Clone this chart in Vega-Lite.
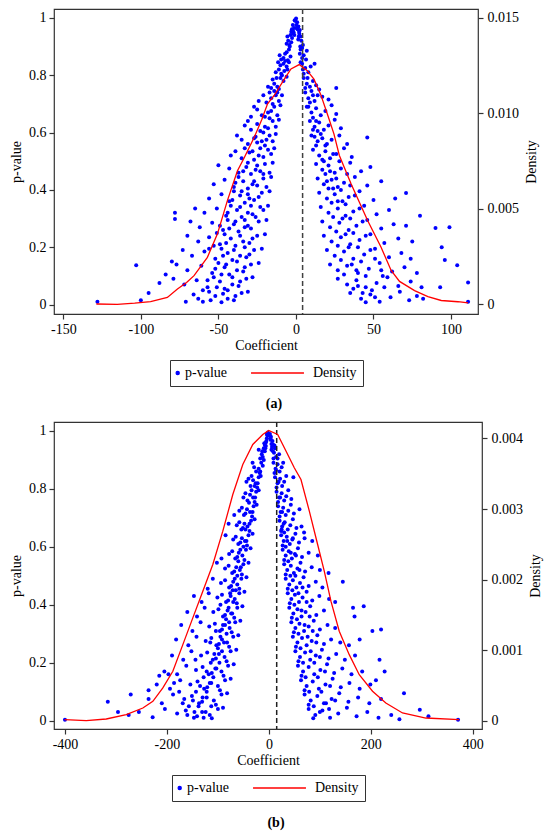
{
  "$schema": "https://vega.github.io/schema/vega-lite/v6.json",
  "padding": {"left": 8, "top": 7, "right": 0, "bottom": 0},
  "datasets": {
    "pa": [
      {"c":-0.5,"p":0.99},{"c":0.3,"p":0.975},{"c":-1.2,"p":0.965},{"c":1.0,"p":0.96},{"c":-2.0,"p":0.955},{"c":0.8,"p":0.985},{"c":-1.5,"p":0.95},{"c":2.0,"p":0.952},{"c":-2.6,"p":0.96},{"c":1.6,"p":0.97},{"c":-0.8,"p":0.992},{"c":0.1,"p":0.998},{"c":-3,"p":0.952},{"c":2.5,"p":0.958},
      {"c":-3.5,"p":0.94},{"c":-5,"p":0.92},{"c":-2.5,"p":0.93},{"c":-4.2,"p":0.905},{"c":-6,"p":0.91},{"c":2.2,"p":0.945},{"c":3.5,"p":0.92},{"c":4.5,"p":0.905},{"c":1.8,"p":0.935},{"c":-3,"p":0.915},{"c":3,"p":0.935},{"c":-5.5,"p":0.935},{"c":2.8,"p":0.9},{"c":-1.8,"p":0.945},
      {"c":-6,"p":0.88},{"c":-8,"p":0.86},{"c":-4.5,"p":0.89},{"c":-7,"p":0.875},{"c":-3.5,"p":0.865},{"c":-9.5,"p":0.855},{"c":-5.2,"p":0.852},{"c":3,"p":0.89},{"c":5,"p":0.87},{"c":4,"p":0.86},{"c":6.5,"p":0.855},{"c":7,"p":0.885},{"c":2.5,"p":0.875},{"c":-10.5,"p":0.87},
      {"c":-8,"p":0.84},{"c":-11,"p":0.82},{"c":-6,"p":0.83},{"c":-13,"p":0.81},{"c":-9.5,"p":0.805},{"c":-4.5,"p":0.845},{"c":-10,"p":0.835},{"c":-7.5,"p":0.815},{"c":4,"p":0.84},{"c":6,"p":0.825},{"c":8,"p":0.81},{"c":5,"p":0.805},{"c":9.5,"p":0.83},{"c":12,"p":0.84},{"c":-11.5,"p":0.845},{"c":-12.5,"p":0.79},
      {"c":-10,"p":0.79},{"c":-14,"p":0.77},{"c":-12,"p":0.76},{"c":-8,"p":0.78},{"c":-16,"p":0.755},{"c":-6,"p":0.795},{"c":-11,"p":0.752},{"c":-15,"p":0.785},{"c":5,"p":0.79},{"c":7,"p":0.77},{"c":9,"p":0.76},{"c":11,"p":0.78},{"c":6,"p":0.755},{"c":13,"p":0.765},{"c":15,"p":0.75},{"c":-18,"p":0.76},
      {"c":-12,"p":0.74},{"c":-16,"p":0.72},{"c":-19,"p":0.705},{"c":-14,"p":0.745},{"c":-9,"p":0.73},{"c":-21,"p":0.73},{"c":-17,"p":0.74},{"c":-11,"p":0.71},{"c":-24,"p":0.71},{"c":6,"p":0.74},{"c":8,"p":0.72},{"c":10,"p":0.745},{"c":12,"p":0.71},{"c":14,"p":0.73},{"c":9,"p":0.705},{"c":17,"p":0.725},{"c":21,"p":0.715},{"c":26,"p":0.755},
      {"c":-14,"p":0.69},{"c":-18,"p":0.67},{"c":-22,"p":0.66},{"c":-25,"p":0.68},{"c":-10,"p":0.695},{"c":-20,"p":0.655},{"c":-16,"p":0.675},{"c":-27,"p":0.69},{"c":-12,"p":0.66},{"c":7,"p":0.69},{"c":10,"p":0.67},{"c":13,"p":0.685},{"c":16,"p":0.66},{"c":19,"p":0.675},{"c":11,"p":0.652},{"c":23,"p":0.695},{"c":26,"p":0.665},{"c":-29,"p":0.655},
      {"c":-15,"p":0.64},{"c":-20,"p":0.62},{"c":-25,"p":0.63},{"c":-29,"p":0.61},{"c":-11,"p":0.645},{"c":-23,"p":0.605},{"c":-18,"p":0.615},{"c":-31,"p":0.64},{"c":-13,"p":0.62},{"c":9,"p":0.64},{"c":12,"p":0.62},{"c":15,"p":0.635},{"c":18,"p":0.61},{"c":21,"p":0.625},{"c":14,"p":0.605},{"c":25,"p":0.645},{"c":29,"p":0.615},{"c":-33,"p":0.625},
      {"c":-17,"p":0.59},{"c":-22,"p":0.57},{"c":-27,"p":0.58},{"c":-31,"p":0.56},{"c":-13,"p":0.595},{"c":-35,"p":0.575},{"c":-20,"p":0.555},{"c":-25,"p":0.565},{"c":-38,"p":0.59},{"c":10,"p":0.59},{"c":14,"p":0.57},{"c":17,"p":0.58},{"c":20,"p":0.56},{"c":23,"p":0.575},{"c":13,"p":0.555},{"c":28,"p":0.59},{"c":33,"p":0.56},{"c":46,"p":0.583},{"c":-15,"p":0.57},
      {"c":-18,"p":0.54},{"c":-24,"p":0.52},{"c":-30,"p":0.53},{"c":-35,"p":0.51},{"c":-14,"p":0.545},{"c":-27,"p":0.505},{"c":-21,"p":0.515},{"c":-39,"p":0.535},{"c":-42,"p":0.52},{"c":11,"p":0.54},{"c":15,"p":0.52},{"c":19,"p":0.535},{"c":22,"p":0.51},{"c":26,"p":0.525},{"c":17,"p":0.505},{"c":31,"p":0.545},{"c":36,"p":0.515},{"c":-33,"p":0.545},
      {"c":-20,"p":0.49},{"c":-26,"p":0.47},{"c":-32,"p":0.48},{"c":-37,"p":0.46},{"c":-15,"p":0.495},{"c":-29,"p":0.455},{"c":-23,"p":0.465},{"c":-43,"p":0.475},{"c":-50,"p":0.486},{"c":-17,"p":0.46},{"c":13,"p":0.49},{"c":17,"p":0.47},{"c":21,"p":0.485},{"c":25,"p":0.46},{"c":29,"p":0.475},{"c":19,"p":0.455},{"c":35,"p":0.495},{"c":42,"p":0.465},{"c":48,"p":0.48},
      {"c":-21,"p":0.44},{"c":-28,"p":0.42},{"c":-34,"p":0.43},{"c":-40,"p":0.41},{"c":-16,"p":0.445},{"c":-31,"p":0.405},{"c":-25,"p":0.415},{"c":-46,"p":0.435},{"c":-53,"p":0.42},{"c":-37,"p":0.445},{"c":14,"p":0.44},{"c":18,"p":0.42},{"c":23,"p":0.435},{"c":27,"p":0.41},{"c":31,"p":0.425},{"c":21,"p":0.405},{"c":38,"p":0.445},{"c":46,"p":0.415},{"c":55,"p":0.43},
      {"c":-22,"p":0.39},{"c":-30,"p":0.37},{"c":-36,"p":0.38},{"c":-43,"p":0.36},{"c":-17,"p":0.395},{"c":-33,"p":0.355},{"c":-27,"p":0.365},{"c":-48,"p":0.385},{"c":-56,"p":0.37},{"c":-40,"p":0.395},{"c":15,"p":0.39},{"c":20,"p":0.37},{"c":25,"p":0.385},{"c":30,"p":0.36},{"c":34,"p":0.375},{"c":23,"p":0.355},{"c":41,"p":0.395},{"c":50,"p":0.365},{"c":64,"p":0.37},{"c":71,"p":0.389},
      {"c":-23,"p":0.34},{"c":-31,"p":0.32},{"c":-38,"p":0.33},{"c":-45,"p":0.31},{"c":-18,"p":0.345},{"c":-35,"p":0.305},{"c":-28,"p":0.315},{"c":-51,"p":0.335},{"c":-59,"p":0.32},{"c":-65,"p":0.335},{"c":-42,"p":0.345},{"c":16,"p":0.34},{"c":21,"p":0.32},{"c":27,"p":0.335},{"c":32,"p":0.31},{"c":37,"p":0.325},{"c":24,"p":0.305},{"c":44,"p":0.345},{"c":52,"p":0.315},{"c":60,"p":0.33},
      {"c":-24,"p":0.29},{"c":-33,"p":0.27},{"c":-40,"p":0.28},{"c":-47,"p":0.26},{"c":-19,"p":0.295},{"c":-37,"p":0.255},{"c":-29,"p":0.265},{"c":-54,"p":0.285},{"c":-62,"p":0.27},{"c":-68,"p":0.29},{"c":-78,"p":0.298},{"c":-78,"p":0.32},{"c":-44,"p":0.295},{"c":17,"p":0.29},{"c":22,"p":0.27},{"c":28,"p":0.285},{"c":34,"p":0.26},{"c":39,"p":0.275},{"c":26,"p":0.255},{"c":46,"p":0.295},{"c":55,"p":0.265},{"c":63,"p":0.28},{"c":80,"p":0.31},{"c":90,"p":0.267},{"c":99,"p":0.27},{"c":71,"p":0.275},
      {"c":-25,"p":0.24},{"c":-34,"p":0.22},{"c":-42,"p":0.23},{"c":-49,"p":0.21},{"c":-20,"p":0.245},{"c":-39,"p":0.205},{"c":-30,"p":0.215},{"c":-56,"p":0.235},{"c":-63,"p":0.22},{"c":-70,"p":0.24},{"c":-46,"p":0.245},{"c":-53,"p":0.205},{"c":18,"p":0.24},{"c":23,"p":0.22},{"c":29,"p":0.235},{"c":35,"p":0.21},{"c":41,"p":0.225},{"c":27,"p":0.205},{"c":48,"p":0.245},{"c":57,"p":0.215},{"c":66,"p":0.23},{"c":75,"p":0.22},{"c":94,"p":0.2},
      {"c":-27,"p":0.19},{"c":-36,"p":0.17},{"c":-44,"p":0.18},{"c":-52,"p":0.16},{"c":-22,"p":0.195},{"c":-41,"p":0.155},{"c":-32,"p":0.165},{"c":-59,"p":0.185},{"c":-67,"p":0.17},{"c":-73,"p":0.19},{"c":-80,"p":0.15},{"c":-48,"p":0.195},{"c":20,"p":0.19},{"c":25,"p":0.17},{"c":31,"p":0.185},{"c":37,"p":0.16},{"c":44,"p":0.175},{"c":29,"p":0.155},{"c":51,"p":0.195},{"c":60,"p":0.165},{"c":68,"p":0.18},{"c":96,"p":0.155},{"c":74,"p":0.16},
      {"c":-29,"p":0.14},{"c":-38,"p":0.12},{"c":-46,"p":0.13},{"c":-54,"p":0.11},{"c":-24,"p":0.145},{"c":-43,"p":0.105},{"c":-34,"p":0.115},{"c":-61,"p":0.135},{"c":-70,"p":0.12},{"c":-77,"p":0.14},{"c":-84,"p":0.105},{"c":-103,"p":0.137},{"c":-50,"p":0.145},{"c":22,"p":0.14},{"c":27,"p":0.12},{"c":33,"p":0.135},{"c":40,"p":0.11},{"c":47,"p":0.125},{"c":31,"p":0.105},{"c":54,"p":0.145},{"c":62,"p":0.115},{"c":70,"p":0.13},{"c":78,"p":0.11},{"c":104,"p":0.137},
      {"c":-32,"p":0.09},{"c":-41,"p":0.07},{"c":-49,"p":0.08},{"c":-57,"p":0.06},{"c":-28,"p":0.095},{"c":-46,"p":0.055},{"c":-37,"p":0.065},{"c":-64,"p":0.085},{"c":-72,"p":0.07},{"c":-79,"p":0.09},{"c":-88,"p":0.075},{"c":-53,"p":0.095},{"c":27,"p":0.09},{"c":33,"p":0.07},{"c":39,"p":0.085},{"c":45,"p":0.06},{"c":52,"p":0.075},{"c":37,"p":0.055},{"c":59,"p":0.095},{"c":66,"p":0.065},{"c":74,"p":0.08},{"c":81,"p":0.06},{"c":93,"p":0.06},{"c":111,"p":0.077},
      {"c":-35,"p":0.04},{"c":-44,"p":0.02},{"c":-52,"p":0.03},{"c":-60,"p":0.01},{"c":-31,"p":0.045},{"c":-48,"p":0.008},{"c":-40,"p":0.015},{"c":-66,"p":0.035},{"c":-71,"p":0.01},{"c":-95,"p":0.04},{"c":-100,"p":0.015},{"c":-128,"p":0.01},{"c":-56,"p":0.045},{"c":35,"p":0.04},{"c":42,"p":0.02},{"c":48,"p":0.035},{"c":54,"p":0.01},{"c":61,"p":0.025},{"c":45,"p":0.008},{"c":67,"p":0.045},{"c":73,"p":0.015},{"c":78,"p":0.03},{"c":82,"p":0.02},{"c":111,"p":0.01},
      {"c":-26,"p":0.585},{"c":-19,"p":0.575},{"c":-23,"p":0.545},{"c":-28,"p":0.535},{"c":-16,"p":0.525},{"c":-31,"p":0.495},{"c":-25,"p":0.485},{"c":-34,"p":0.465},{"c":-21,"p":0.455},{"c":-39,"p":0.425},{"c":-27,"p":0.43},{"c":-19,"p":0.41},{"c":-35,"p":0.395},{"c":-24,"p":0.375},{"c":-31,"p":0.385},{"c":-41,"p":0.365},{"c":-29,"p":0.345},{"c":-36,"p":0.34},{"c":-21,"p":0.33},{"c":-44,"p":0.32},{"c":-33,"p":0.295},{"c":-26,"p":0.305},{"c":-39,"p":0.29},{"c":-49,"p":0.275},{"c":-31,"p":0.275},{"c":-43,"p":0.265},{"c":-36,"p":0.24},{"c":-28,"p":0.23},{"c":-45,"p":0.215},{"c":-51,"p":0.25},{"c":-33,"p":0.2},{"c":-40,"p":0.19},{"c":-47,"p":0.17},{"c":-30,"p":0.175},{"c":-56,"p":0.195},{"c":-38,"p":0.15},{"c":-45,"p":0.14},{"c":-52,"p":0.125},{"c":-33,"p":0.13},{"c":-41,"p":0.095},{"c":-48,"p":0.105},{"c":-57,"p":0.085},{"c":-36,"p":0.08},{"c":-44,"p":0.05},{"c":-51,"p":0.06},{"c":-60,"p":0.05},{"c":-39,"p":0.03},{"c":-47,"p":0.038},{"c":-63,"p":0.02},{"c":-55,"p":0.015},
      {"c":16,"p":0.595},{"c":19,"p":0.555},{"c":12,"p":0.585},{"c":24,"p":0.525},{"c":18,"p":0.5},{"c":28,"p":0.5},{"c":22,"p":0.465},{"c":33,"p":0.455},{"c":26,"p":0.44},{"c":20,"p":0.43},{"c":35,"p":0.415},{"c":29,"p":0.4},{"c":24,"p":0.405},{"c":38,"p":0.38},{"c":32,"p":0.35},{"c":27,"p":0.36},{"c":41,"p":0.335},{"c":35,"p":0.3},{"c":30,"p":0.3},{"c":43,"p":0.29},{"c":37,"p":0.25},{"c":32,"p":0.245},{"c":45,"p":0.24},{"c":40,"p":0.2},{"c":34,"p":0.2},{"c":48,"p":0.19},{"c":42,"p":0.15},{"c":36,"p":0.14},{"c":51,"p":0.16},{"c":45,"p":0.1},{"c":39,"p":0.12},{"c":55,"p":0.12},{"c":49,"p":0.05},{"c":43,"p":0.04},{"c":57,"p":0.06},{"c":51,"p":0.025},{"c":40,"p":0.065},{"c":56,"p":0.1},
      {"c":-2,"p":0.975},{"c":0.5,"p":0.965},{"c":-1,"p":0.94},{"c":1.5,"p":0.925},{"c":-4,"p":0.9},{"c":4,"p":0.895},{"c":-7,"p":0.85},{"c":-5.5,"p":0.82},{"c":3,"p":0.845},{"c":4.5,"p":0.82},{"c":-9,"p":0.8},{"c":7.5,"p":0.79},{"c":-13,"p":0.73},{"c":11,"p":0.73},{"c":-15,"p":0.7},{"c":8,"p":0.69},{"c":-17,"p":0.65},{"c":13,"p":0.64},{"c":-21,"p":0.6},{"c":11,"p":0.61}
    ],
    "da": [
      {"c":-128.7,"d":0.000015},{"c":-115.2,"d":0},{"c":-104,"d":0.00006},{"c":-93.7,"d":0.000135},{"c":-82.9,"d":0.00036},{"c":-76.4,"d":0.0008},{"c":-70.5,"d":0.00114},{"c":-65.7,"d":0.0015},{"c":-57.1,"d":0.00246},{"c":-50.6,"d":0.00369},{"c":-44.2,"d":0.00543},{"c":-37.7,"d":0.007},{"c":-33.5,"d":0.00765},{"c":-26.9,"d":0.00875},{"c":-22,"d":0.00968},{"c":-18.3,"d":0.0105},{"c":-14,"d":0.01094},{"c":-7.5,"d":0.0118},{"c":-3.2,"d":0.01233},{"c":2.1,"d":0.01256},{"c":7.3,"d":0.01224},{"c":11.6,"d":0.0118},{"c":15.9,"d":0.01101},{"c":20.2,"d":0.00998},{"c":24.5,"d":0.00893},{"c":28,"d":0.0078},{"c":35.6,"d":0.0063},{"c":46.3,"d":0.00438},{"c":54.9,"d":0.00299},{"c":61.4,"d":0.00177},{"c":66.8,"d":0.0012},{"c":76.5,"d":0.00072},{"c":85.1,"d":0.0004},{"c":93.7,"d":0.0002},{"c":104.5,"d":0.000135},{"c":111,"d":0.000075}
    ],
    "pb": [
      {"c":-2,"p":0.995},{"c":1,"p":0.985},{"c":-4,"p":0.975},{"c":3,"p":0.97},{"c":-6,"p":0.96},{"c":5,"p":0.955},{"c":-8,"p":0.952},{"c":7,"p":0.965},{"c":-3,"p":0.985},{"c":2,"p":0.99},{"c":-5,"p":0.965},{"c":4,"p":0.98},{"c":-9,"p":0.958},{"c":8,"p":0.953},
      {"c":-10,"p":0.94},{"c":-14,"p":0.92},{"c":-8,"p":0.93},{"c":-17,"p":0.905},{"c":-12,"p":0.91},{"c":-20,"p":0.935},{"c":6,"p":0.945},{"c":10,"p":0.925},{"c":14,"p":0.91},{"c":8,"p":0.93},{"c":17,"p":0.905},{"c":12,"p":0.94},{"c":-6,"p":0.948},{"c":20,"p":0.92},
      {"c":-15,"p":0.89},{"c":-20,"p":0.87},{"c":-25,"p":0.86},{"c":-12,"p":0.88},{"c":-29,"p":0.875},{"c":-18,"p":0.855},{"c":-32,"p":0.89},{"c":9,"p":0.89},{"c":13,"p":0.87},{"c":17,"p":0.885},{"c":21,"p":0.86},{"c":25,"p":0.875},{"c":11,"p":0.855},{"c":28,"p":0.89},
      {"c":-20,"p":0.84},{"c":-26,"p":0.82},{"c":-31,"p":0.83},{"c":-36,"p":0.81},{"c":-16,"p":0.845},{"c":-40,"p":0.835},{"c":-23,"p":0.805},{"c":-34,"p":0.845},{"c":-44,"p":0.825},{"c":12,"p":0.84},{"c":17,"p":0.82},{"c":22,"p":0.835},{"c":26,"p":0.81},{"c":30,"p":0.825},{"c":15,"p":0.805},{"c":34,"p":0.845},{"c":48,"p":0.84},{"c":-28,"p":0.81},
      {"c":-25,"p":0.79},{"c":-31,"p":0.77},{"c":-37,"p":0.78},{"c":-42,"p":0.76},{"c":-20,"p":0.795},{"c":-46,"p":0.785},{"c":-28,"p":0.755},{"c":-39,"p":0.752},{"c":-50,"p":0.77},{"c":15,"p":0.79},{"c":20,"p":0.77},{"c":25,"p":0.785},{"c":30,"p":0.76},{"c":34,"p":0.775},{"c":18,"p":0.755},{"c":38,"p":0.795},{"c":44,"p":0.765},{"c":-34,"p":0.795},
      {"c":-30,"p":0.74},{"c":-37,"p":0.72},{"c":-43,"p":0.73},{"c":-49,"p":0.71},{"c":-24,"p":0.745},{"c":-53,"p":0.735},{"c":-33,"p":0.705},{"c":-46,"p":0.715},{"c":-58,"p":0.725},{"c":-68,"p":0.71},{"c":18,"p":0.74},{"c":23,"p":0.72},{"c":28,"p":0.735},{"c":33,"p":0.71},{"c":38,"p":0.725},{"c":21,"p":0.705},{"c":43,"p":0.745},{"c":49,"p":0.715},{"c":60,"p":0.73},
      {"c":-35,"p":0.69},{"c":-42,"p":0.67},{"c":-48,"p":0.68},{"c":-54,"p":0.66},{"c":-28,"p":0.695},{"c":-58,"p":0.685},{"c":-38,"p":0.655},{"c":-51,"p":0.665},{"c":-63,"p":0.675},{"c":-79,"p":0.68},{"c":21,"p":0.69},{"c":26,"p":0.67},{"c":31,"p":0.685},{"c":37,"p":0.66},{"c":42,"p":0.675},{"c":24,"p":0.655},{"c":47,"p":0.695},{"c":54,"p":0.665},{"c":64,"p":0.67},{"c":69,"p":0.65},
      {"c":-40,"p":0.64},{"c":-47,"p":0.62},{"c":-53,"p":0.63},{"c":-60,"p":0.61},{"c":-32,"p":0.645},{"c":-65,"p":0.635},{"c":-43,"p":0.605},{"c":-56,"p":0.615},{"c":-70,"p":0.625},{"c":-85,"p":0.64},{"c":24,"p":0.64},{"c":29,"p":0.62},{"c":35,"p":0.635},{"c":41,"p":0.61},{"c":46,"p":0.625},{"c":27,"p":0.605},{"c":52,"p":0.645},{"c":59,"p":0.615},{"c":70,"p":0.63},{"c":85,"p":0.62},
      {"c":-45,"p":0.59},{"c":-52,"p":0.57},{"c":-59,"p":0.58},{"c":-66,"p":0.56},{"c":-36,"p":0.595},{"c":-72,"p":0.585},{"c":-48,"p":0.555},{"c":-62,"p":0.565},{"c":-78,"p":0.575},{"c":-93,"p":0.56},{"c":27,"p":0.59},{"c":33,"p":0.57},{"c":39,"p":0.585},{"c":45,"p":0.56},{"c":51,"p":0.575},{"c":30,"p":0.555},{"c":57,"p":0.595},{"c":65,"p":0.565},{"c":78,"p":0.58},{"c":96,"p":0.57},
      {"c":-50,"p":0.54},{"c":-57,"p":0.52},{"c":-64,"p":0.53},{"c":-72,"p":0.51},{"c":-40,"p":0.545},{"c":-79,"p":0.535},{"c":-53,"p":0.505},{"c":-68,"p":0.515},{"c":-86,"p":0.525},{"c":-102,"p":0.545},{"c":30,"p":0.54},{"c":36,"p":0.52},{"c":43,"p":0.535},{"c":49,"p":0.51},{"c":56,"p":0.525},{"c":33,"p":0.505},{"c":62,"p":0.545},{"c":71,"p":0.515},{"c":84,"p":0.53},{"c":100,"p":0.52},{"c":117,"p":0.51},
      {"c":-54,"p":0.49},{"c":-62,"p":0.47},{"c":-70,"p":0.48},{"c":-78,"p":0.46},{"c":-44,"p":0.495},{"c":-86,"p":0.485},{"c":-58,"p":0.455},{"c":-74,"p":0.465},{"c":-94,"p":0.475},{"c":-110,"p":0.49},{"c":-120,"p":0.455},{"c":33,"p":0.49},{"c":40,"p":0.47},{"c":47,"p":0.485},{"c":54,"p":0.46},{"c":61,"p":0.475},{"c":37,"p":0.455},{"c":68,"p":0.495},{"c":78,"p":0.465},{"c":92,"p":0.48},{"c":145,"p":0.48},{"c":105,"p":0.46},
      {"c":-58,"p":0.44},{"c":-67,"p":0.42},{"c":-75,"p":0.43},{"c":-84,"p":0.41},{"c":-48,"p":0.445},{"c":-92,"p":0.435},{"c":-63,"p":0.405},{"c":-80,"p":0.415},{"c":-101,"p":0.425},{"c":-118,"p":0.44},{"c":-132,"p":0.41},{"c":-147,"p":0.43},{"c":37,"p":0.44},{"c":44,"p":0.42},{"c":51,"p":0.435},{"c":59,"p":0.41},{"c":66,"p":0.425},{"c":41,"p":0.405},{"c":74,"p":0.445},{"c":85,"p":0.415},{"c":99,"p":0.43},{"c":118,"p":0.42},{"c":130,"p":0.41},
      {"c":-62,"p":0.39},{"c":-72,"p":0.37},{"c":-81,"p":0.38},{"c":-90,"p":0.36},{"c":-52,"p":0.395},{"c":-99,"p":0.385},{"c":-68,"p":0.355},{"c":-86,"p":0.365},{"c":-109,"p":0.375},{"c":-126,"p":0.39},{"c":-141,"p":0.36},{"c":-160,"p":0.375},{"c":40,"p":0.39},{"c":48,"p":0.37},{"c":56,"p":0.385},{"c":64,"p":0.36},{"c":72,"p":0.375},{"c":45,"p":0.355},{"c":81,"p":0.395},{"c":93,"p":0.365},{"c":108,"p":0.38},{"c":165,"p":0.39},{"c":186,"p":0.395},{"c":168,"p":0.36},
      {"c":-66,"p":0.34},{"c":-77,"p":0.32},{"c":-86,"p":0.33},{"c":-96,"p":0.31},{"c":-56,"p":0.345},{"c":-106,"p":0.335},{"c":-73,"p":0.305},{"c":-92,"p":0.315},{"c":-117,"p":0.325},{"c":-134,"p":0.34},{"c":-150,"p":0.31},{"c":-172,"p":0.33},{"c":44,"p":0.34},{"c":52,"p":0.32},{"c":60,"p":0.335},{"c":69,"p":0.31},{"c":78,"p":0.325},{"c":49,"p":0.305},{"c":88,"p":0.345},{"c":100,"p":0.315},{"c":115,"p":0.33},{"c":130,"p":0.32},{"c":203,"p":0.31},{"c":220,"p":0.315},
      {"c":-70,"p":0.29},{"c":-82,"p":0.27},{"c":-92,"p":0.28},{"c":-103,"p":0.26},{"c":-60,"p":0.295},{"c":-113,"p":0.285},{"c":-78,"p":0.255},{"c":-98,"p":0.265},{"c":-124,"p":0.275},{"c":-142,"p":0.29},{"c":-158,"p":0.26},{"c":-182,"p":0.28},{"c":47,"p":0.29},{"c":56,"p":0.27},{"c":65,"p":0.285},{"c":74,"p":0.26},{"c":84,"p":0.275},{"c":53,"p":0.255},{"c":95,"p":0.295},{"c":108,"p":0.265},{"c":122,"p":0.28},{"c":140,"p":0.27},{"c":157,"p":0.26},{"c":178,"p":0.28},
      {"c":-75,"p":0.24},{"c":-87,"p":0.22},{"c":-98,"p":0.23},{"c":-110,"p":0.21},{"c":-64,"p":0.245},{"c":-121,"p":0.235},{"c":-83,"p":0.205},{"c":-104,"p":0.215},{"c":-133,"p":0.225},{"c":-152,"p":0.24},{"c":-168,"p":0.21},{"c":-190,"p":0.225},{"c":52,"p":0.24},{"c":61,"p":0.22},{"c":71,"p":0.235},{"c":81,"p":0.21},{"c":92,"p":0.225},{"c":58,"p":0.205},{"c":104,"p":0.245},{"c":117,"p":0.215},{"c":132,"p":0.23},{"c":149,"p":0.21},{"c":169,"p":0.225},{"c":217,"p":0.21},
      {"c":-80,"p":0.19},{"c":-93,"p":0.17},{"c":-105,"p":0.18},{"c":-118,"p":0.16},{"c":-69,"p":0.195},{"c":-130,"p":0.185},{"c":-89,"p":0.155},{"c":-112,"p":0.165},{"c":-143,"p":0.175},{"c":-162,"p":0.19},{"c":-180,"p":0.16},{"c":-205,"p":0.17},{"c":-215,"p":0.155},{"c":57,"p":0.19},{"c":67,"p":0.17},{"c":78,"p":0.185},{"c":89,"p":0.16},{"c":101,"p":0.175},{"c":64,"p":0.155},{"c":114,"p":0.195},{"c":128,"p":0.165},{"c":144,"p":0.18},{"c":162,"p":0.16},{"c":183,"p":0.17},{"c":227,"p":0.17},
      {"c":-86,"p":0.14},{"c":-100,"p":0.12},{"c":-113,"p":0.13},{"c":-127,"p":0.11},{"c":-75,"p":0.145},{"c":-140,"p":0.135},{"c":-96,"p":0.105},{"c":-121,"p":0.115},{"c":-154,"p":0.125},{"c":-174,"p":0.14},{"c":-194,"p":0.11},{"c":-220,"p":0.125},{"c":-236,"p":0.105},{"c":63,"p":0.14},{"c":74,"p":0.12},{"c":86,"p":0.135},{"c":98,"p":0.11},{"c":111,"p":0.125},{"c":70,"p":0.105},{"c":125,"p":0.145},{"c":141,"p":0.115},{"c":158,"p":0.13},{"c":178,"p":0.11},{"c":199,"p":0.125},{"c":210,"p":0.14},
      {"c":-93,"p":0.09},{"c":-108,"p":0.07},{"c":-122,"p":0.08},{"c":-137,"p":0.06},{"c":-82,"p":0.095},{"c":-151,"p":0.085},{"c":-104,"p":0.055},{"c":-131,"p":0.065},{"c":-166,"p":0.075},{"c":-188,"p":0.09},{"c":-210,"p":0.06},{"c":-236,"p":0.075},{"c":-271,"p":0.09},{"c":-316,"p":0.065},{"c":70,"p":0.09},{"c":82,"p":0.07},{"c":95,"p":0.085},{"c":108,"p":0.06},{"c":123,"p":0.075},{"c":78,"p":0.055},{"c":138,"p":0.095},{"c":156,"p":0.065},{"c":175,"p":0.08},{"c":197,"p":0.06},{"c":220,"p":0.075},{"c":265,"p":0.095},{"c":296,"p":0.038},
      {"c":-100,"p":0.04},{"c":-116,"p":0.02},{"c":-131,"p":0.03},{"c":-147,"p":0.01},{"c":-90,"p":0.045},{"c":-163,"p":0.035},{"c":-112,"p":0.008},{"c":-141,"p":0.015},{"c":-180,"p":0.025},{"c":-204,"p":0.04},{"c":-228,"p":0.012},{"c":-255,"p":0.03},{"c":-275,"p":0.02},{"c":-296,"p":0.03},{"c":-400,"p":0.003},{"c":78,"p":0.04},{"c":91,"p":0.02},{"c":105,"p":0.035},{"c":120,"p":0.01},{"c":136,"p":0.025},{"c":87,"p":0.008},{"c":153,"p":0.045},{"c":172,"p":0.015},{"c":193,"p":0.03},{"c":215,"p":0.01},{"c":240,"p":0.02},{"c":256,"p":0.005},{"c":313,"p":0.015},{"c":371,"p":0.003},
      {"c":-46,"p":0.66},{"c":-44,"p":0.62},{"c":-50,"p":0.6},{"c":-56,"p":0.59},{"c":-60,"p":0.55},{"c":-55,"p":0.53},{"c":-62,"p":0.5},{"c":-67,"p":0.49},{"c":-71,"p":0.45},{"c":-65,"p":0.45},{"c":-76,"p":0.44},{"c":-70,"p":0.41},{"c":-79,"p":0.39},{"c":-74,"p":0.37},{"c":-84,"p":0.35},{"c":-78,"p":0.34},{"c":-90,"p":0.33},{"c":-83,"p":0.3},{"c":-95,"p":0.29},{"c":-88,"p":0.27},{"c":-100,"p":0.25},{"c":-92,"p":0.24},{"c":-107,"p":0.23},{"c":-97,"p":0.2},{"c":-114,"p":0.2},{"c":-103,"p":0.18},{"c":-122,"p":0.17},{"c":-109,"p":0.15},{"c":-128,"p":0.15},{"c":-116,"p":0.13},{"c":-135,"p":0.12},{"c":-122,"p":0.1},{"c":-143,"p":0.1},{"c":-130,"p":0.08},{"c":-149,"p":0.07},{"c":-138,"p":0.05},{"c":-157,"p":0.05},{"c":-124,"p":0.03},{"c":-146,"p":0.03},{"c":-160,"p":0.02},{"c":-113,"p":0.05},{"c":-128,"p":0.01},{"c":-169,"p":0.06},{"c":-176,"p":0.1},{"c":-186,"p":0.13},{"c":-197,"p":0.16},{"c":-144,"p":0.21},{"c":-115,"p":0.27},{"c":-104,"p":0.31},{"c":-95,"p":0.4},
      {"c":25,"p":0.66},{"c":30,"p":0.65},{"c":33,"p":0.6},{"c":38,"p":0.55},{"c":42,"p":0.5},{"c":46,"p":0.45},{"c":50,"p":0.4},{"c":55,"p":0.35},{"c":58,"p":0.3},{"c":62,"p":0.25},{"c":67,"p":0.2},{"c":72,"p":0.15},{"c":79,"p":0.1},{"c":88,"p":0.05},{"c":36,"p":0.62},{"c":43,"p":0.58},{"c":52,"p":0.5},{"c":58,"p":0.44},{"c":64,"p":0.38},{"c":70,"p":0.33},{"c":76,"p":0.29},{"c":82,"p":0.24},{"c":89,"p":0.2},{"c":96,"p":0.15},{"c":103,"p":0.1},{"c":112,"p":0.06},{"c":100,"p":0.03},{"c":118,"p":0.04},{"c":130,"p":0.07},{"c":120,"p":0.12},{"c":110,"p":0.17},{"c":100,"p":0.22},{"c":93,"p":0.27},{"c":86,"p":0.31},{"c":80,"p":0.36},{"c":74,"p":0.41},{"c":66,"p":0.46},{"c":60,"p":0.52},{"c":53,"p":0.57},{"c":47,"p":0.63},
      {"c":-7,"p":0.94},{"c":5,"p":0.935},{"c":-10,"p":0.9},{"c":9,"p":0.905},{"c":-17,"p":0.86},{"c":14,"p":0.865},{"c":-22,"p":0.82},{"c":19,"p":0.825},{"c":-27,"p":0.77},{"c":22,"p":0.77},{"c":-32,"p":0.72},{"c":26,"p":0.72},{"c":-38,"p":0.68},{"c":29,"p":0.68},{"c":-13,"p":0.93},{"c":11,"p":0.95},{"c":-4,"p":0.99},{"c":3,"p":0.975}
    ],
    "db": [
      {"c":-400.6,"d":0.000014},{"c":-358.3,"d":0},{"c":-319,"d":0.000024},{"c":-279.8,"d":0.000085},{"c":-247.2,"d":0.00018},{"c":-227.6,"d":0.000275},{"c":-208,"d":0.000464},{"c":-188.4,"d":0.0007},{"c":-168.8,"d":0.001078},{"c":-149.2,"d":0.001457},{"c":-129.6,"d":0.001835},{"c":-110,"d":0.002213},{"c":-90.4,"d":0.002686},{"c":-70.8,"d":0.003206},{"c":-51.2,"d":0.003631},{"c":-31.6,"d":0.003915},{"c":-12,"d":0.004057},{"c":-0.4,"d":0.004113},{"c":17.2,"d":0.004057},{"c":33.5,"d":0.003821},{"c":49.8,"d":0.003584},{"c":62.9,"d":0.003418},{"c":79.3,"d":0.00297},{"c":95.6,"d":0.002497},{"c":108.6,"d":0.002119},{"c":121.7,"d":0.001694},{"c":138,"d":0.001268},{"c":157.6,"d":0.000936},{"c":177.2,"d":0.000652},{"c":203.3,"d":0.000417},{"c":229.4,"d":0.000251},{"c":262.1,"d":0.000109},{"c":307.8,"d":0.000038},{"c":373.1,"d":0.000014}
    ]
  },
  "vconcat": [
    {
      "width": 424,
      "height": 305,
      "title": {"text": "(a)", "orient": "bottom", "anchor": "middle", "frame": "bounds", "offset": 10},
      "layer": [
        {
          "data": {"name": "pa"},
          "mark": {"type": "circle", "size": 16, "opacity": 1},
          "encoding": {
            "x": {"field": "c", "type": "quantitative", "scale": {"domain": [-156, 117.4], "nice": false, "zero": false},
                  "axis": {"title": "Coefficient", "values": [-150, -100, -50, 0, 50, 100], "labelExpr": "datum.value + ''", "titlePadding": 2}},
            "y": {"field": "p", "type": "quantitative", "scale": {"domain": [-0.033, 1.031], "nice": false, "zero": false},
                  "axis": {"title": "p-value", "values": [0, 0.2, 0.4, 0.6, 0.8, 1], "labelExpr": "datum.value + ''", "titlePadding": 5}},
            "color": {"datum": "p-value", "scale": {"domain": ["p-value", "Density"], "range": ["#0000ff", "#ff0000"]},
                      "legend": {"title": null,
                                 "encode": {
                                   "symbols": {"update": {
                                     "shape": {"signal": "datum.value === 'Density' ? 'stroke' : 'circle'"},
                                     "size": {"signal": "datum.value === 'Density' ? 2800 : 10"},
                                     "fill": {"signal": "datum.value === 'Density' ? 'transparent' : '#0000ff'"},
                                     "stroke": {"signal": "datum.value === 'Density' ? '#ff0000' : 'transparent'"},
                                     "strokeWidth": {"value": 1.3},
                                     "x": {"signal": "datum.value === 'Density' ? 26.5 : 1.7"}
                                   }},
                                   "labels": {"update": {"x": {"signal": "datum.value === 'Density' ? 62 : 9"}}}
                                 }}}
          }
        },
        {
          "data": {"values": [{"c": 4.3}]},
          "mark": {"type": "rule", "color": "#404040", "strokeWidth": 1.5, "strokeDash": [5, 3]},
          "encoding": {"x": {"field": "c", "type": "quantitative"}}
        },
        {
          "data": {"name": "da"},
          "mark": {"type": "line", "strokeWidth": 1.3},
          "encoding": {
            "x": {"field": "c", "type": "quantitative"},
            "y": {"field": "d", "type": "quantitative", "scale": {"domain": [-0.000508, 0.015471], "nice": false, "zero": false},
                  "axis": {"orient": "right", "title": "Density", "values": [0, 0.005, 0.01, 0.015],
                           "labelExpr": "datum.value == 0 ? '0' : format(datum.value, '.3f')",
                           "labelPadding": 4, "titlePadding": 6, "titleAngle": -90, "titleBaseline": "top"}},
            "color": {"datum": "Density",
                      "legend": {"title": null,
                                 "encode": {
                                   "symbols": {"update": {
                                     "shape": {"signal": "datum.value === 'Density' ? 'stroke' : 'circle'"},
                                     "size": {"signal": "datum.value === 'Density' ? 2800 : 10"},
                                     "fill": {"signal": "datum.value === 'Density' ? 'transparent' : '#0000ff'"},
                                     "stroke": {"signal": "datum.value === 'Density' ? '#ff0000' : 'transparent'"},
                                     "strokeWidth": {"value": 1.3},
                                     "x": {"signal": "datum.value === 'Density' ? 26.5 : 1.7"}
                                   }},
                                   "labels": {"update": {"x": {"signal": "datum.value === 'Density' ? 62 : 9"}}}
                                 }}}
          }
        }
      ],
      "resolve": {"scale": {"y": "independent"}}
    },
    {
      "width": 428,
      "height": 307,
      "title": {"text": "(b)", "orient": "bottom", "anchor": "middle", "frame": "bounds", "offset": 14},
      "layer": [
        {
          "data": {"name": "pb"},
          "mark": {"type": "circle", "size": 16, "opacity": 1},
          "encoding": {
            "x": {"field": "c", "type": "quantitative", "scale": {"domain": [-421.5, 418], "nice": false, "zero": false},
                  "axis": {"title": "Coefficient", "values": [-400, -200, 0, 200, 400], "labelExpr": "datum.value + ''", "titlePadding": 2}},
            "y": {"field": "p", "type": "quantitative", "scale": {"domain": [-0.0287, 1.031], "nice": false, "zero": false},
                  "axis": {"title": "p-value", "values": [0, 0.2, 0.4, 0.6, 0.8, 1], "labelExpr": "datum.value + ''", "titlePadding": 5}},
            "color": {"datum": "p-value", "scale": {"domain": ["p-value", "Density"], "range": ["#0000ff", "#ff0000"]},
                      "legend": {"title": null,
                                 "encode": {
                                   "symbols": {"update": {
                                     "shape": {"signal": "datum.value === 'Density' ? 'stroke' : 'circle'"},
                                     "size": {"signal": "datum.value === 'Density' ? 2800 : 10"},
                                     "fill": {"signal": "datum.value === 'Density' ? 'transparent' : '#0000ff'"},
                                     "stroke": {"signal": "datum.value === 'Density' ? '#ff0000' : 'transparent'"},
                                     "strokeWidth": {"value": 1.3},
                                     "x": {"signal": "datum.value === 'Density' ? 26.5 : 1.7"}
                                   }},
                                   "labels": {"update": {"x": {"signal": "datum.value === 'Density' ? 62 : 9"}}}
                                 }}}
          }
        },
        {
          "data": {"values": [{"c": 15.3}]},
          "mark": {"type": "rule", "color": "#202020", "strokeWidth": 1.5, "strokeDash": [5, 3]},
          "encoding": {"x": {"field": "c", "type": "quantitative"}}
        },
        {
          "data": {"name": "db"},
          "mark": {"type": "line", "strokeWidth": 1.3},
          "encoding": {
            "x": {"field": "c", "type": "quantitative"},
            "y": {"field": "d", "type": "quantitative", "scale": {"domain": [-0.0001177, 0.004233], "nice": false, "zero": false},
                  "axis": {"orient": "right", "title": "Density", "values": [0, 0.001, 0.002, 0.003, 0.004],
                           "labelExpr": "datum.value == 0 ? '0' : format(datum.value, '.3f')",
                           "labelPadding": 4, "titlePadding": 6, "titleAngle": -90, "titleBaseline": "top"}},
            "color": {"datum": "Density",
                      "legend": {"title": null,
                                 "encode": {
                                   "symbols": {"update": {
                                     "shape": {"signal": "datum.value === 'Density' ? 'stroke' : 'circle'"},
                                     "size": {"signal": "datum.value === 'Density' ? 2800 : 10"},
                                     "fill": {"signal": "datum.value === 'Density' ? 'transparent' : '#0000ff'"},
                                     "stroke": {"signal": "datum.value === 'Density' ? '#ff0000' : 'transparent'"},
                                     "strokeWidth": {"value": 1.3},
                                     "x": {"signal": "datum.value === 'Density' ? 26.5 : 1.7"}
                                   }},
                                   "labels": {"update": {"x": {"signal": "datum.value === 'Density' ? 62 : 9"}}}
                                 }}}
          }
        }
      ],
      "resolve": {"scale": {"y": "independent"}}
    }
  ],
  "spacing": 8,
  "resolve": {"scale": {"color": "independent"}, "legend": {"color": "independent"}},
  "config": {
    "font": "Liberation Serif",
    "view": {"stroke": "#333333", "strokeWidth": 1.2},
    "axis": {"labelFont": "Liberation Serif", "labelFontSize": 14, "labelColor": "#000000", "titleFont": "Liberation Serif", "titleFontSize": 14, "titleFontWeight": "normal", "titleColor": "#000000", "tickColor": "#333333", "tickSize": 5, "tickWidth": 1.2, "domain": false, "grid": false, "labelPadding": 3},
    "legend": {"orient": "bottom", "direction": "horizontal", "strokeColor": "#333333", "padding": 6, "offset": 8, "labelFont": "Liberation Serif", "labelFontSize": 14, "labelColor": "#000000", "columnPadding": 21, "layout": {"bottom": {"anchor": "middle"}}},
    "title": {"font": "Liberation Serif", "fontSize": 14, "fontWeight": "bold", "color": "#000000"}
  }
}
